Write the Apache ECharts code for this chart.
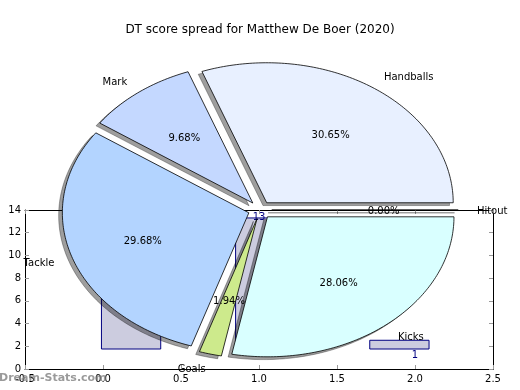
<!DOCTYPE html>
<html><head><meta charset="utf-8">
<script src="https://cdn.jsdelivr.net/npm/echarts@6/dist/echarts.min.js"></script>
<style>html,body{margin:0;padding:0;background:#fff}#c{width:520px;height:390px}</style>
</head><body><div id="c"></div>
<script>
// ---- data ----
const titleText = 'DT score spread for Matthew De Boer (2020)';
const pieLabels = ['Handballs', 'Mark', 'Tackle', 'Goals', 'Kicks', 'Hitout'];
const pieValues = [95, 30, 92, 6, 87, 0];
const pieColors = ['#e8f0ff', '#c4d8ff', '#b3d4ff', '#cdea8c', '#d9ffff', '#ffffff'];
const barLeft = [-0.01, 0.85, 1.71];
const barRight = [0.37, 1.23, 2.09];
const barBottom = [1.76, 1.76, 1.76];
const barTop = [11, 13.3, 2.53];
const barLabelX = [0, 1, 2];
const barLabelY = [11, 13.4, 1.3];
const barLabelText = ['11', '13', '1'];
const watermark = 'Dream-Stats.com';

// ---- layout (pixels) ----
const PIE = {cx: 260, cy: 210, rx: 186.5, ry: 140, explode: 0.063, shx: -3.7, shy: 2.8, tdy: 1.5};
const FONT = 'DejaVu Sans';

const total = pieValues.reduce((a, b) => a + b, 0);

function renderPie(params, api) {
  const i = params.dataIndex;
  let start = 0;
  for (let k = 0; k < i; k++) start += pieValues[k];
  const v = api.value(0);
  const a1 = start / total * 2 * Math.PI;
  const a2 = (start + v) / total * 2 * Math.PI;
  const am = (a1 + a2) / 2;
  const ca = Math.cos(am), sa = Math.sin(am);
  const ox = PIE.cx + PIE.explode * PIE.rx * ca;
  const oy = PIE.cy - PIE.explode * PIE.ry * sa;
  const pts = [[ox, oy]];
  const n = Math.max(1, Math.ceil((a2 - a1) / (Math.PI / 180)));
  for (let j = 0; j <= n; j++) {
    const a = a1 + (a2 - a1) * j / n;
    pts.push([ox + PIE.rx * Math.cos(a), oy - PIE.ry * Math.sin(a)]);
  }
  const sh = pts.map(p => [p[0] + PIE.shx, p[1] + PIE.shy]);
  const pct = (v / total * 100).toFixed(2) + '%';
  return {
    type: 'group',
    children: [
      {type: 'polygon', z2: 0, shape: {points: sh},
       style: {fill: 'rgba(0,0,0,0.38)', stroke: 'rgba(0,0,0,0.3)', lineWidth: 1}},
      {type: 'polygon', z2: 10, shape: {points: pts},
       style: {fill: pieColors[i], stroke: '#000', lineWidth: 0.8}},
      {type: 'text', z2: 20, style: {
        text: pieLabels[i], x: ox + 1.1 * PIE.rx * ca, y: oy - 1.1 * PIE.ry * sa + PIE.tdy,
        align: ca > 0 ? 'left' : 'right', verticalAlign: 'middle',
        fill: '#000', font: '10px ' + FONT}},
      {type: 'text', z2: 20, style: {
        text: pct, x: ox + 0.6 * PIE.rx * ca, y: oy - 0.6 * PIE.ry * sa + PIE.tdy,
        align: 'center', verticalAlign: 'middle',
        fill: '#000', font: '10px ' + FONT}}
    ]
  };
}

function renderBar(params, api) {
  const p0 = api.coord([api.value(0), api.value(3)]);
  const p1 = api.coord([api.value(1), api.value(2)]);
  const pl = api.coord([api.value(4), api.value(5)]);
  return {
    type: 'group',
    children: [
      {type: 'rect', shape: {x: p0[0], y: p0[1], width: p1[0] - p0[0], height: p1[1] - p0[1]},
       style: {fill: '#ccccdf', stroke: '#000080', lineWidth: 1}},
      {type: 'text', style: {text: barLabelText[params.dataIndex], x: pl[0], y: pl[1] + 1,
        align: 'center', verticalAlign: 'middle', fill: '#000080', font: '10px ' + FONT}}
    ]
  };
}

const barData = barLeft.map((l, i) => [l, barRight[i], barBottom[i], barTop[i], barLabelX[i], barLabelY[i]]);

const axCommon = {
  type: 'value',
  axisLine: {show: true, onZero: false, lineStyle: {color: '#000', width: 1}},
  axisTick: {show: true, inside: true, length: 4, lineStyle: {color: '#999'}},
  splitLine: {show: false}
};

const chart = echarts.init(document.getElementById('c'), null, {renderer: 'canvas'});
chart.setOption({
  animation: false,
  backgroundColor: '#fff',
  title: {text: titleText, left: 'center', top: 19,
    textStyle: {fontSize: 12, fontWeight: 'normal', color: '#000', fontFamily: FONT}},
  grid: {left: 25, right: 27, top: 210, bottom: 21},
  xAxis: [
    Object.assign({}, axCommon, {position: 'bottom', min: -0.5, max: 2.5, interval: 0.5,
      axisLabel: {show: true, color: '#000', fontSize: 10, fontFamily: FONT, margin: 5,
        formatter: v => v.toFixed(1)}}),
    Object.assign({}, axCommon, {position: 'top', min: -0.5, max: 2.5, interval: 0.5,
      axisLabel: {show: false}})
  ],
  yAxis: [
    Object.assign({}, axCommon, {position: 'left', min: 0, max: 14, interval: 2,
      axisLabel: {show: true, color: '#000', fontSize: 10, fontFamily: FONT, margin: 4,
        verticalAlign: 'middle', padding: [2, 0, 0, 0]}}),
    Object.assign({}, axCommon, {position: 'right', min: 0, max: 14, interval: 2,
      axisLabel: {show: false}})
  ],
  graphic: [
    {type: 'text', left: -1, top: 373, z: 100, style: {text: watermark,
      fill: 'rgba(120,120,120,0.75)', font: 'bold 11px ' + FONT}}
  ],
  series: [
    {type: 'custom', name: 'bars', coordinateSystem: 'cartesian2d', xAxisIndex: 0, yAxisIndex: 0,
     z: 1, renderItem: renderBar, data: barData, encode: {x: [0, 1, 4], y: [2, 3, 5]}},
    {type: 'custom', name: 'pie', coordinateSystem: 'none', z: 5,
     renderItem: renderPie, data: pieValues.map((v, i) => ({name: pieLabels[i], value: [v]}))}
  ]
});
</script>
</body></html>
